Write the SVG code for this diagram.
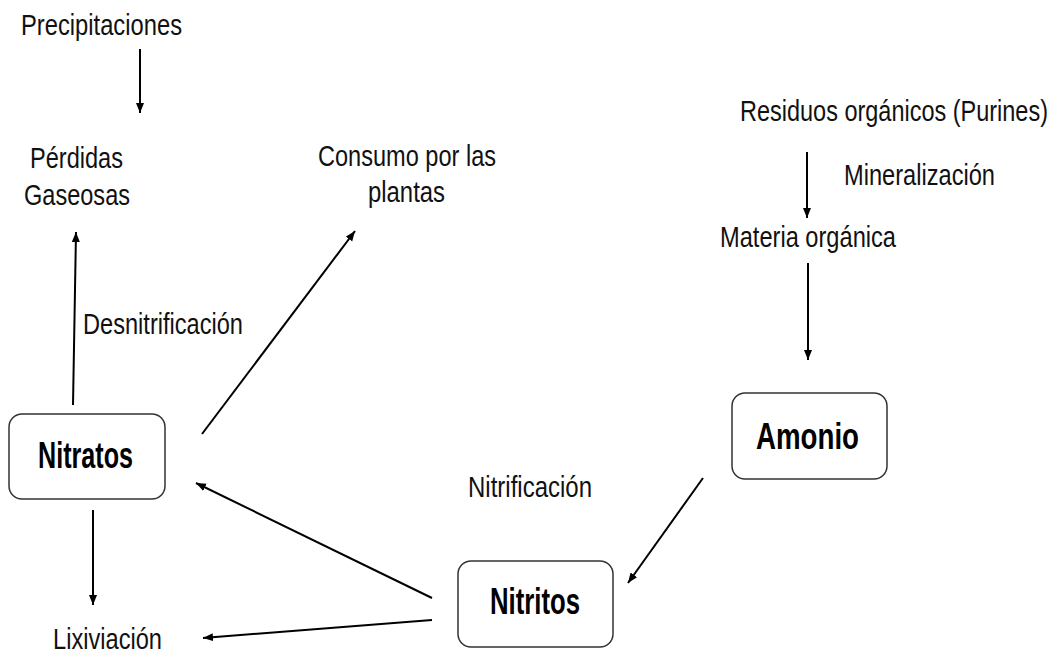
<svg xmlns="http://www.w3.org/2000/svg" width="1056" height="655" viewBox="0 0 1056 655">
  <style>
    .t { font-family: "Liberation Sans", Arial, sans-serif; font-size: 29px; fill: #111; }
    .b { font-family: "Liberation Sans", Arial, sans-serif; font-size: 36px; font-weight: bold; fill: #000; }
    .box { fill: #fff; stroke: #333; stroke-width: 1.5; }
    .c { stroke: #000; stroke-width: 2; fill: none; marker-end: url(#ah); }
  </style>
  <defs>
    <marker id="ah" markerUnits="userSpaceOnUse" markerWidth="11" markerHeight="9" refX="10" refY="4" orient="auto">
      <path d="M0,0 L10,4 L0,8 z" fill="#000"/>
    </marker>
  </defs>
  <rect width="1056" height="655" fill="#fff"/>

  <g id="connectors">
    <line class="c" x1="140" y1="49" x2="140" y2="113"/>
    <line class="c" x1="73" y1="405" x2="76" y2="232"/>
    <line class="c" x1="202" y1="434" x2="355" y2="231"/>
    <line class="c" x1="93" y1="510" x2="93" y2="605"/>
    <line class="c" x1="432" y1="598" x2="196" y2="483"/>
    <line class="c" x1="432" y1="620" x2="203" y2="638"/>
    <line class="c" x1="703" y1="478" x2="628" y2="583"/>
    <line class="c" x1="807" y1="152" x2="807" y2="218"/>
    <line class="c" x1="808" y1="263" x2="808" y2="360"/>
  </g>

  <g id="precipitaciones"><text class="t" x="21" y="35" textLength="161" lengthAdjust="spacingAndGlyphs">Precipitaciones</text></g>
  <g id="perdidas">
    <text class="t" x="30" y="168" textLength="93" lengthAdjust="spacingAndGlyphs">Pérdidas</text>
    <text class="t" x="24" y="205" textLength="106" lengthAdjust="spacingAndGlyphs">Gaseosas</text>
  </g>
  <g id="consumo">
    <text class="t" x="318" y="166" textLength="178" lengthAdjust="spacingAndGlyphs">Consumo por las</text>
    <text class="t" x="368" y="202" textLength="77" lengthAdjust="spacingAndGlyphs">plantas</text>
  </g>
  <g id="desnitrificacion"><text class="t" x="83" y="334" textLength="160" lengthAdjust="spacingAndGlyphs">Desnitrificación</text></g>
  <g id="lixiviacion"><text class="t" x="53" y="649" textLength="109" lengthAdjust="spacingAndGlyphs">Lixiviación</text></g>
  <g id="nitrificacion"><text class="t" x="468" y="497" textLength="124" lengthAdjust="spacingAndGlyphs">Nitrificación</text></g>
  <g id="residuos"><text class="t" transform="translate(740,121) scale(0.81,1)" x="0" y="0">Residuos orgánicos (Purines)</text></g>
  <g id="mineralizacion"><text class="t" x="844" y="185" textLength="151" lengthAdjust="spacingAndGlyphs">Mineralización</text></g>
  <g id="materia"><text class="t" x="720" y="247" textLength="176" lengthAdjust="spacingAndGlyphs">Materia orgánica</text></g>

  <g id="nitratos">
    <rect class="box" x="9" y="414" width="156" height="85" rx="13"/>
    <text class="b" x="38" y="468" textLength="95" lengthAdjust="spacingAndGlyphs">Nitratos</text>
  </g>
  <g id="nitritos">
    <rect class="box" x="458" y="561" width="155" height="86" rx="13"/>
    <text class="b" x="490" y="614" textLength="90" lengthAdjust="spacingAndGlyphs">Nitritos</text>
  </g>
  <g id="amonio">
    <rect class="box" x="732" y="393" width="155" height="86" rx="13"/>
    <text class="b" x="756" y="449" textLength="103" lengthAdjust="spacingAndGlyphs">Amonio</text>
  </g>
</svg>
